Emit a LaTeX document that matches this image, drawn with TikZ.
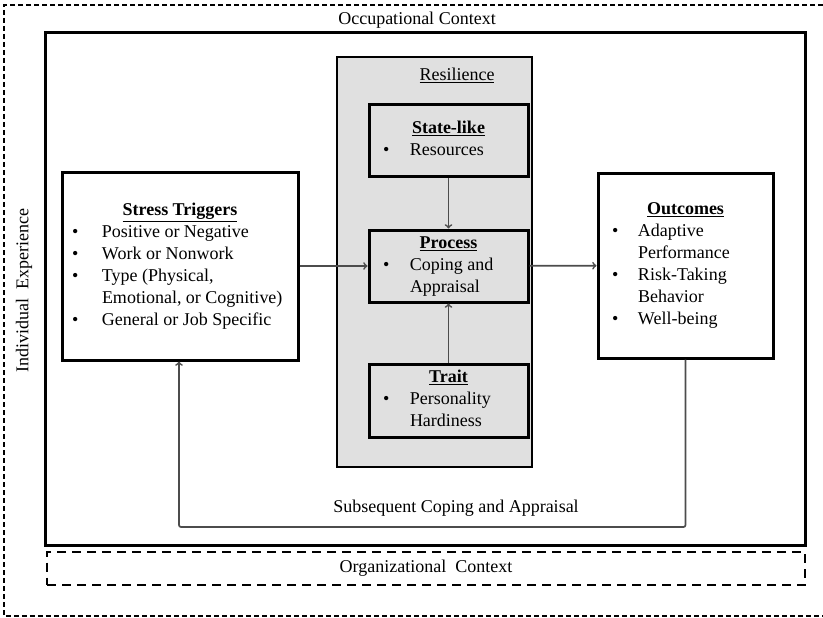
\documentclass[tikz,border=0pt]{standalone}
\usepackage{fontspec}
\setmainfont{Liberation Serif}
\usepackage{tikz}
\usetikzlibrary{arrows, calc}

\newcommand{\hd}[1]{\underline{\textbf{#1}}}

\begin{document}
\begin{tikzpicture}[x=1pt, y=-1pt, every text node part/.style={align=center}]

\tikzstyle{txt}=[font=\fontsize{18}{22}\selectfont, inner sep=0]
\tikzstyle{box}=[txt, draw, line width=3pt]
\tikzstyle{arr}=[draw, line width=1.7pt, black!70, -to]

\useasboundingbox (0, 0) rectangle (823, 618);

\draw [line width=1.9pt, dash pattern=on 5pt off 3pt] (823, 5) -| (4, 616) -- (823, 616);

\node (occ) [box, minimum width=760, minimum height=512] at (425, 289) {};
\node (octx) [txt] at (417, 20) {Occupational Context};
\node (indv) [txt, rotate=90] at (24, 291) {Individual~ Experience};
\node (org) [txt, draw, line width=2pt, dash pattern=on 9pt off 6pt,
  minimum width=758, minimum height=33] at (426, 568) {Organizational~ Context};

\node (resil) [txt, draw, line width=2.2pt, fill=black!12,
  minimum width=195, minimum height=410] at (434.5, 262) {};
\node (rlab) [txt] at (457, 75) {\underline{Resilience}};

\node (trig) [box, minimum width=236, minimum height=188] at (180, 266)
{\begin{tabular}{@{}p{30pt}@{}p{186pt}@{}}
\multicolumn{2}{@{}c@{}}{\hd{Stress Triggers}}\\
\textbullet & Positive or Negative\\
\textbullet & Work or Nonwork\\
\textbullet & Type (Physical,\\
 & Emotional,  or Cognitive)\\
\textbullet & General  or Job Specific
\end{tabular}};

\node (state) [box, minimum width=159, minimum height=71] at (448.5, 140.5)
{\begin{tabular}{@{}p{27pt}@{}p{104pt}@{}}
\multicolumn{2}{@{}c@{}}{\hd{State-like}}\\
\textbullet & Resources
\end{tabular}};

\node (proc) [box, minimum width=159, minimum height=72] at (448.5, 266)
{\begin{tabular}{@{}p{27pt}@{}p{104pt}@{}}
\multicolumn{2}{@{}c@{}}{\hd{Process}}\\
\textbullet & Coping and\\
 & Appraisal
\end{tabular}};

\node (trait) [box, minimum width=159, minimum height=73] at (448.5, 400.5)
{\begin{tabular}{@{}p{27pt}@{}p{104pt}@{}}
\multicolumn{2}{@{}c@{}}{\hd{Trait}}\\
\textbullet & Personality\\
 & Hardiness
\end{tabular}};

\node (outc) [box, minimum width=175, minimum height=185] at (685.5, 265.5)
{\begin{tabular}{@{}p{26pt}@{}p{121pt}@{}}
\multicolumn{2}{@{}c@{}}{\hd{Outcomes}}\\
\textbullet & Adaptive\\
 & Performance\\
\textbullet & Risk-Taking\\
 & Behavior\\
\textbullet & Well-being
\end{tabular}};

\coordinate (fb) at (179, 527);
\node (subs) [txt] at (456, 508) {Subsequent Coping and Appraisal};

\path [arr] (trig) -- (proc);
\path [arr] (proc) -- (outc);
\path [arr] (state) -- (proc);
\path [arr] (trait) -- (proc);
\path [arr, rounded corners=2pt] (outc.south) |- (fb) -- (trig.south -| fb);

\end{tikzpicture}
\end{document}
